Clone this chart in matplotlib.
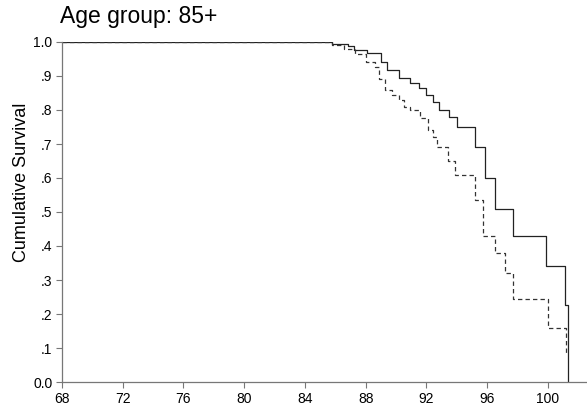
import numpy as np
import matplotlib.pyplot as plt

plt.rcParams['font.family'] = ['Liberation Sans', 'DejaVu Sans']

# Kaplan-Meier step curves (age at event, cumulative survival)
t_solid = [68, 85.8, 86.8, 87.2, 88.1, 89.0, 89.4, 90.2, 90.9, 91.5, 92.0,
           92.4, 92.8, 93.5, 94.0, 95.2, 95.85, 96.5, 97.7, 99.9, 101.1, 101.3]
s_solid = [1.0, 0.994, 0.988, 0.976, 0.967, 0.94, 0.918, 0.894, 0.879, 0.865, 0.845,
           0.824, 0.80, 0.78, 0.75, 0.69, 0.60, 0.51, 0.43, 0.34, 0.226, 0.0]

t_dash = [68, 85.8, 86.6, 87.3, 88.0, 88.6, 88.9, 89.3, 89.7, 90.2, 90.5, 90.9,
          91.6, 92.1, 92.45, 92.7, 93.4, 93.9, 95.2, 95.7, 96.5, 97.2, 97.7, 100.0, 101.2]
s_dash = [1.0, 0.99, 0.98, 0.965, 0.94, 0.925, 0.89, 0.86, 0.845, 0.83, 0.81, 0.80,
          0.775, 0.74, 0.72, 0.69, 0.65, 0.61, 0.535, 0.43, 0.38, 0.32, 0.245, 0.16, 0.08]

x_ticks = list(range(68, 101, 4))
y_ticks = [0.0, 0.1, 0.2, 0.3, 0.4, 0.5, 0.6, 0.7, 0.8, 0.9, 1.0]
y_labels = ['0.0', '.1', '.2', '.3', '.4', '.5', '.6', '.7', '.8', '.9', '1.0']

fig = plt.figure(figsize=(5.87, 4.09), dpi=100)
ax = fig.add_axes([62/587, 27/409, 1 - 62/587, 340/409])

ax.plot(t_solid, s_solid, drawstyle='steps-post', color='#222222', lw=0.9)
ax.plot(t_dash, s_dash, drawstyle='steps-post', color='#333333', lw=0.9,
        linestyle=(0, (3.5, 2.5)))

ax.set_xlim(68, 102.57)
ax.set_ylim(0, 1.0)
ax.set_xticks(x_ticks)
ax.set_yticks(y_ticks)
ax.set_yticklabels(y_labels)
ax.tick_params(labelsize=10, length=4, width=0.8, color='#777777')
ax.tick_params(axis='x', pad=3.5)
ax.tick_params(axis='y', pad=3)

for s in ['top', 'right']:
    ax.spines[s].set_visible(False)
for s in ['left', 'bottom']:
    ax.spines[s].set_color('#777777')
    ax.spines[s].set_linewidth(0.9)

fig.text(60/587, 1 - 17/409, 'Age group: 85+', fontsize=16.5, va='center', ha='left')
fig.text(22/587, 1 - 182/409, 'Cumulative Survival', fontsize=13,
         rotation=90, va='center', ha='center')

fig.savefig('out.png', dpi=100)
